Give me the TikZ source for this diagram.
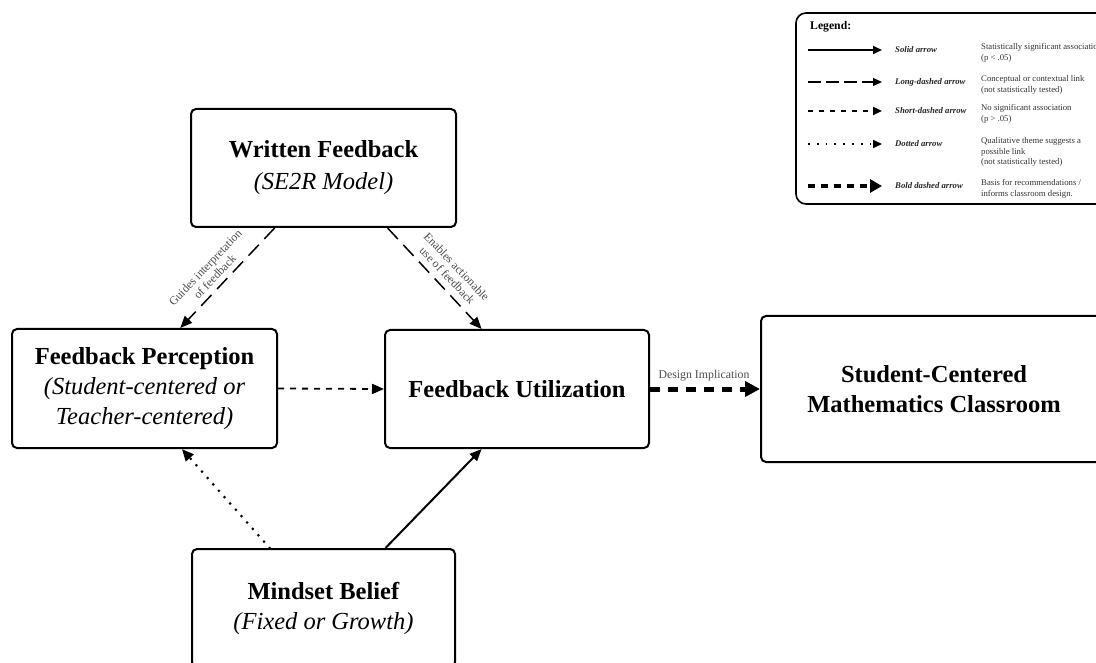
\documentclass[tikz,border=0pt]{standalone}
\usepackage{fontspec}
\setmainfont{Liberation Serif}
\usetikzlibrary{arrows.meta,calc}
\begin{document}
\begin{tikzpicture}[x=1pt,y=-1pt,
  box/.style={draw, line width=2pt, rounded corners=5pt, align=center, inner sep=0pt,
    font=\fontsize{24.5}{30}\selectfont},
  tip/.style={-{Triangle[length=12pt,width=10pt]}},
  solidarr/.style={tip, line width=2pt},
  longdash/.style={tip, line width=1.5pt, dash pattern=on 15pt off 8pt},
  shortdash/.style={tip, line width=1.8pt, dash pattern=on 6pt off 6pt},
  dotarr/.style={tip, line width=3pt, line cap=round, dash pattern=on 0pt off 8.5pt},
  bolddash/.style={-{Triangle[length=15pt,width=15pt]}, line width=5pt, dash pattern=on 10pt off 8pt},
  lbl/.style={font=\fontsize{11.8}{13}\selectfont, text=black!70, align=center, inner sep=0pt},
  legname/.style={font=\fontsize{8.7}{10.8}\selectfont\bfseries\itshape, text=black!85, anchor=base west, inner sep=0pt},
  legdesc/.style={font=\fontsize{8.7}{10.8}\selectfont, text=black!80, anchor=north west, align=left, inner sep=0pt}
]
\useasboundingbox (0,0) rectangle (1096,663);
\clip (0,0) rectangle (1096,663);

% main boxes
\node[box, minimum width=265pt, minimum height=118pt] (wf) at (323.5,168)
  {\textbf{Written Feedback}\\[2pt]\textit{(SE2R Model)}};
\node[box, minimum width=265pt, minimum height=119pt] (fp) at (144.5,388.5)
  {\textbf{Feedback Perception}\\\textit{(Student-centered or}\\\textit{Teacher-centered)}};
\node[box, minimum width=264pt, minimum height=118pt] (fu) at (517,389)
  {\textbf{Feedback Utilization}};
\node[box, minimum width=346pt, minimum height=146pt] (sc) at (934,389)
  {\textbf{Student-Centered}\\\textbf{Mathematics Classroom}};
\node[box, minimum width=263pt, minimum height=118pt] (mb) at (323.5,608)
  {\textbf{Mindset Belief}\\\textit{(Fixed or Growth)}};

% connectors
\draw[longdash] ($(wf.south west)!0.317!(wf.south east)$) -- ($(fp.north west)!0.634!(fp.north east)$);
\draw[longdash] ($(wf.south west)!0.74!(wf.south east)$) -- ($(fu.north west)!0.367!(fu.north east)$);
\draw[shortdash] (fp.east) -- (fu.west);
\draw[bolddash] (fu.east) -- (sc.west);
\draw[dotarr] ($(mb.north west)!0.297!(mb.north east)$) -- ($(fp.south west)!0.64!(fp.south east)$);
\draw[solidarr] ($(mb.north west)!0.734!(mb.north east)$) -- ($(fu.south west)!0.367!(fu.south east)$);

% connector labels
\node[lbl, rotate=46.5] (l1) at (210,272) {Guides interpretation\\of feedback};
\node[lbl, rotate=-46.5] (l2) at (452,271) {Enables actionable\\use of feedback};
\node[lbl, anchor=base] (l3) at (704,378) {Design Implication};

% legend
\draw[line width=1.6pt, rounded corners=10pt] (796,13) rectangle (1110,204);
\node[font=\fontsize{11.7}{13}\selectfont\bfseries, anchor=base west, inner sep=0pt] (lt) at (810,30) {Legend:};

\coordinate (s1) at (808,50);  \coordinate (e1) at (882,50);
\coordinate (s2) at (808,82);  \coordinate (e2) at (882,82);
\coordinate (s3) at (808,111); \coordinate (e3) at (882,111);
\coordinate (s4) at (808,144); \coordinate (e4) at (882,144);
\coordinate (s5) at (808,186); \coordinate (e5) at (882,186);

\draw[-{Triangle[length=9pt,width=8pt]}, line width=1.8pt] (s1) -- (e1);
\draw[-{Triangle[length=9pt,width=8pt]}, line width=1.3pt, dash pattern=on 13pt off 5pt] (s2) -- (e2);
\draw[-{Triangle[length=9pt,width=8pt]}, line width=2.5pt, dash pattern=on 5pt off 6pt] (s3) -- (e3);
\draw[-{Triangle[length=9pt,width=8pt]}, line width=1.8pt, dash pattern=on 1.8pt off 7pt] (s4) -- (e4);
\draw[-{Triangle[length=12pt,width=13pt]}, line width=4.5pt, dash pattern=on 7pt off 6pt] (s5) -- (e5);

\node[legname] (n1) at (895,53) {Solid arrow};
\node[legname] (n2) at (895,85) {Long-dashed arrow};
\node[legname] (n3) at (895,114) {Short-dashed arrow};
\node[legname] (n4) at (895,147) {Dotted arrow};
\node[legname] (n5) at (895,189) {Bold dashed arrow};

\node[legdesc] (d1) at (981,43) {Statistically significant association\\(p < .05)};
\node[legdesc] (d2) at (981,75) {Conceptual or contextual link\\(not statistically tested)};
\node[legdesc] (d3) at (981,104) {No significant association\\(p > .05)};
\node[legdesc] (d4) at (981,137) {Qualitative theme suggests a\\possible link\\(not statistically tested)};
\node[legdesc] (d5) at (981,179) {Basis for recommendations /\\informs classroom design.};
\end{tikzpicture}
\end{document}
